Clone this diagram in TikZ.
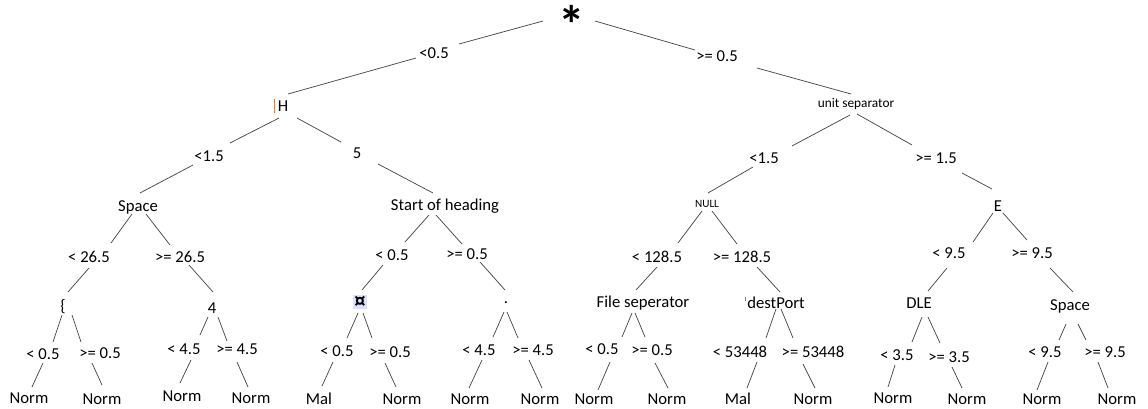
\documentclass[tikz,border=0pt]{standalone}
\usepackage{fontspec}
\setmainfont{Carlito}
\tikzset{
  lbl/.style={inner sep=0pt, font=\fontsize{12.5}{14}\selectfont},
  small/.style={inner sep=0pt, font=\fontsize{10}{12}\selectfont},
  tiny/.style={inner sep=0pt, font=\fontsize{8.4}{10}\selectfont},
  edge/.style={draw=black!72, line width=0.55pt},
}
\newcommand\seg[3]{\coordinate (#1a) at (#2); \coordinate (#1b) at (#3); \draw[edge] (#1a) -- (#1b);}
\begin{document}
\begin{tikzpicture}[x=0.75pt,y=-0.75pt]
\useasboundingbox (0,0) rectangle (1148,408);
% root
\node[inner sep=0pt, font=\fontsize{40}{40}\selectfont\bfseries, anchor=base] (root) at (572,43) {*};
\node[lbl] (a1) at (434,53) {<0.5};
\node[lbl] (a2) at (717,56) {>= 0.5};
% level 1
\node[lbl] (H) at (283,106) {H};
\draw[draw=orange!70!brown, line width=0.5pt] (H.west) ++(-3,-7) coordinate (cur1) -- ++(0,14) coordinate (cur2);
\node[small] (US) at (856,104) {unit separator};
\node[lbl] (b1) at (209,156) {<1.5};
\node[lbl] (b2) at (357,153) {5};
\node[lbl] (b3) at (764,158) {<1.5};
\node[lbl] (b4) at (936,158) {>= 1.5};
% level 2
\node[lbl] (Sp1) at (138,207) {Space};
\node[lbl] (SoH) at (445,206) {Start of heading};
\node[tiny] (NUL) at (707,204) {NULL};
\node[lbl] (E) at (998,206) {E};
\node[lbl] (c1) at (89,257) {< 26.5};
\node[lbl] (c2) at (180,257) {>= 26.5};
\node[lbl] (c3) at (392,255) {< 0.5};
\node[lbl] (c4) at (467,254) {>= 0.5};
\node[lbl] (c5) at (657,257) {< 128.5};
\node[lbl] (c6) at (742,257) {>= 128.5};
\node[lbl] (c7) at (949,253) {< 9.5};
\node[lbl] (c8) at (1032,253) {>= 9.5};
% level 3
\node[lbl] (n1) at (63,307) {\{};
\node[lbl] (n2) at (212,308) {4};
\node[fill=blue!13, inner sep=0.8pt, font=\fontsize{17}{18}\selectfont\bfseries] (n3) at (360,302) {¤};
\node[lbl, anchor=base] (n4) at (506,303) {.};
\node[lbl] (n5) at (643,303) {File seperator};
\node[lbl] (n6) at (776,303) {destPort};
\draw[draw=black!50, line width=0.4pt] (n6.west) ++(-2,-6) coordinate (cur3) -- ++(0,4) coordinate (cur4);
\node[lbl] (n7) at (919,303) {DLE};
\node[lbl] (n8) at (1070,306) {Space};
% level 3 labels
\node[lbl] (d1) at (43,354) {< 0.5};
\node[lbl] (d2) at (100,353) {>= 0.5};
\node[lbl] (d3) at (184,349) {< 4.5};
\node[lbl] (d4) at (237,349) {>= 4.5};
\node[lbl] (d5) at (337,351) {< 0.5};
\node[lbl] (d6) at (390,352) {>= 0.5};
\node[lbl] (d7) at (479,350) {< 4.5};
\node[lbl] (d8) at (533,350) {>= 4.5};
\node[lbl] (d9) at (602,349) {< 0.5};
\node[lbl] (d10) at (652,350) {>= 0.5};
\node[lbl] (d11) at (740,352) {< 53448};
\node[lbl] (d12) at (813,352) {>= 53448};
\node[lbl] (d13) at (897,355) {< 3.5};
\node[lbl] (d14) at (949,357) {>= 3.5};
\node[lbl] (d15) at (1045,352) {< 9.5};
\node[lbl] (d16) at (1105,352) {>= 9.5};
% leaves
\node[lbl] (e1) at (29,398) {Norm};
\node[lbl] (e2) at (102,399) {Norm};
\node[lbl] (e3) at (182,396) {Norm};
\node[lbl] (e4) at (251,398) {Norm};
\node[lbl] (e5) at (319,399) {Mal};
\node[lbl] (e6) at (402,399) {Norm};
\node[lbl] (e7) at (470,399) {Norm};
\node[lbl] (e8) at (540,399) {Norm};
\node[lbl] (e9) at (594,399) {Norm};
\node[lbl] (e10) at (667,399) {Norm};
\node[lbl] (e11) at (738,399) {Mal};
\node[lbl] (e12) at (813,399) {Norm};
\node[lbl] (e13) at (893,398) {Norm};
\node[lbl] (e14) at (967,399) {Norm};
\node[lbl] (e15) at (1042,399) {Norm};
\node[lbl] (e16) at (1117,399) {Norm};
% connectors
\seg{s1}{543,21}{459,44}
\seg{s2}{416,58}{288,94}
\seg{s3}{595,21}{695,50}
\seg{s4}{757,68}{851,94}
\seg{s5}{279,118}{230,143}
\seg{s6}{193,165}{140,193}
\seg{s7}{297,118}{341,142}
\seg{s8}{378,164}{433,193}
\seg{s9}{850,115}{792,146}
\seg{s10}{753,167}{708,193}
\seg{s11}{857,114}{912,145}
\seg{s12}{962,173}{992,189}
\seg{s13}{132,214}{111,243}
\seg{s14}{146,214}{170,245}
\seg{s15}{89,268}{68,292}
\seg{s16}{189,265}{213,292}
\seg{s17}{429,215}{405,242}
\seg{s18}{436,215}{462,244}
\seg{s19}{383,265}{362,290}
\seg{s20}{480,262}{505,290}
\seg{s21}{702,211}{678,243}
\seg{s22}{712,211}{737,244}
\seg{s23}{657,267}{636,290}
\seg{s24}{757,267}{780,292}
\seg{s25}{993,213}{973,242}
\seg{s26}{1003,213}{1027,240}
\seg{s27}{947,268}{928,291}
\seg{s28}{1050,268}{1073,292}
\seg{t1}{62,315}{53,342}
\seg{t2}{72,315}{81,342}
\seg{t3}{208,317}{200,335}
\seg{t4}{218,317}{227,341}
\seg{t5}{358,313}{347,338}
\seg{t6}{363,313}{372,338}
\seg{t7}{504,312}{493,337}
\seg{t8}{507,312}{518,338}
\seg{t9}{632,313}{622,337}
\seg{t10}{635,313}{645,337}
\seg{t11}{776,309}{766,338}
\seg{t12}{781,309}{793,338}
\seg{t13}{922,317}{912,342}
\seg{t14}{928,317}{940,343}
\seg{t15}{1066,324}{1059,340}
\seg{t16}{1078,324}{1086,340}
\seg{u1}{43,363}{32,387}
\seg{u2}{92,363}{102,385}
\seg{u3}{191,360}{180,383}
\seg{u4}{237,362}{248,387}
\seg{u5}{333,362}{322,386}
\seg{u6}{385,363}{396,387}
\seg{u7}{482,360}{469,388}
\seg{u8}{529,360}{542,388}
\seg{u9}{610,362}{598,390}
\seg{u10}{655,363}{668,388}
\seg{u11}{757,362}{747,388}
\seg{u12}{803,364}{815,388}
\seg{u13}{895,365}{888,387}
\seg{u14}{952,367}{962,388}
\seg{u15}{1048,362}{1037,390}
\seg{u16}{1098,362}{1108,388}
\end{tikzpicture}
\end{document}
